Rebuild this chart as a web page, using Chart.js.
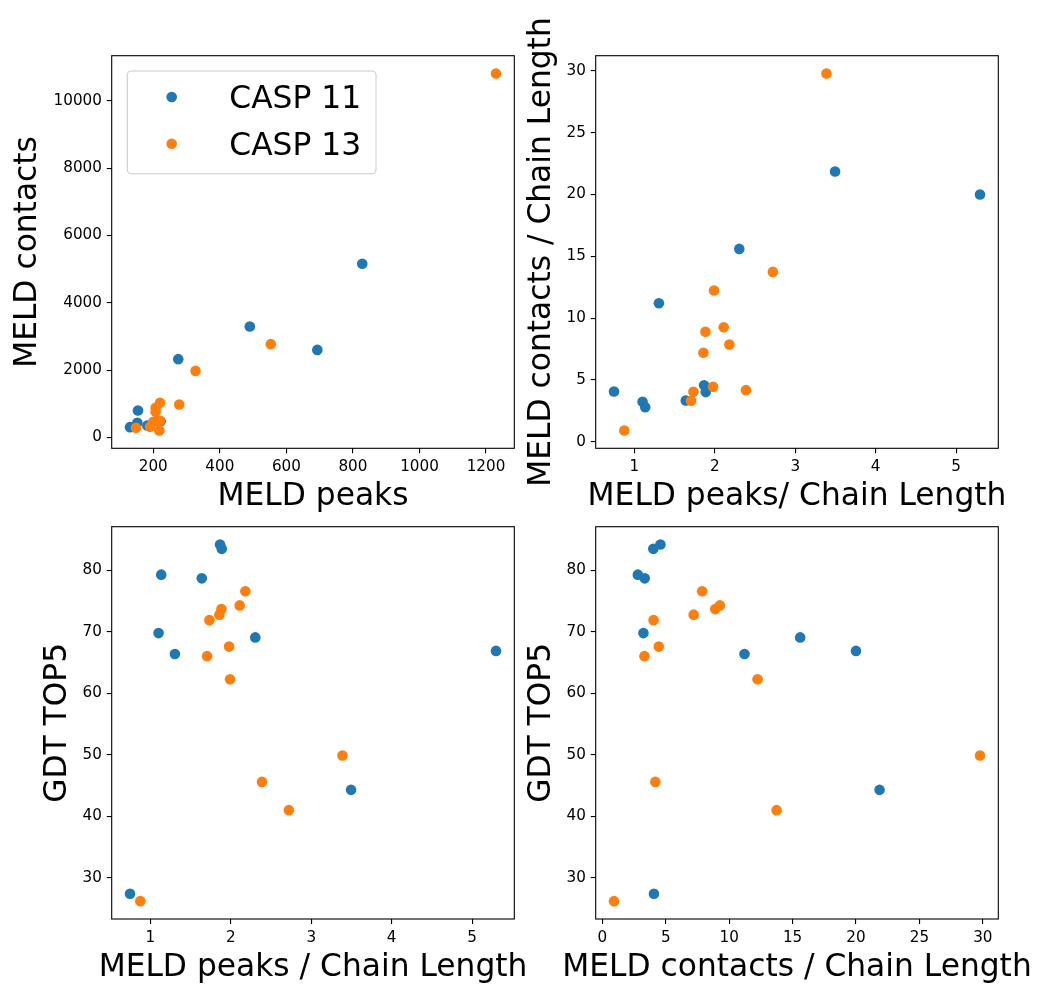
<!DOCTYPE html>
<html>
<head>
<meta charset="utf-8">
<script src="https://cdn.jsdelivr.net/npm/chart.js@4/dist/chart.umd.min.js"></script>
<style>
  body { margin: 0; background: #fff; }
  #fig { position: relative; width: 1040px; height: 984px; }
  #fig canvas { position: absolute; left: 0; top: 0; }
</style>
</head>
<body>
<div id="fig">
  <canvas id="peaksChart" width="1040" height="984"></canvas>
  <canvas id="ratioChart" width="1040" height="984"></canvas>
  <canvas id="gdtPeaksChart" width="1040" height="984"></canvas>
  <canvas id="gdtContactsChart" width="1040" height="984"></canvas>
</div>
<script>
const seriesNames = ['CASP 11', 'CASP 13'];

// CASP 11 targets (same order in every array)
const casp11Peaks = [154, 152, 130, 275, 182, 212, 222, 490, 828, 693];
const casp11Contacts = [802, 434, 306, 2326, 356, 505, 480, 3297, 5160, 2602];
const casp11PeaksPerLength = [0.748, 1.103, 1.136, 1.306, 1.640, 1.867, 1.888, 2.305, 3.495, 5.296];
const casp11ContactsPerLength = [4.07, 3.24, 2.80, 11.21, 3.34, 4.58, 4.02, 15.60, 21.86, 20.00];
const casp11Gdt = [27.4, 69.8, 79.3, 66.4, 78.7, 84.2, 83.5, 69.1, 44.3, 66.9];

// CASP 13 targets
const casp13Peaks = [218, 148, 200, 207, 220, 220, 327, 207, 278, 190, 553, 1230];
const casp13Contacts = [208, 285, 465, 760, 1028, 493, 1978, 879, 980, 315, 2772, 10812];
const casp13PeaksPerLength = [0.876, 1.706, 1.735, 1.859, 1.884, 1.979, 1.991, 2.111, 2.181, 2.388, 2.722, 3.388];
const casp13ContactsPerLength = [0.92, 3.32, 4.04, 7.20, 8.90, 4.45, 12.24, 9.27, 7.87, 4.18, 13.74, 29.78];
const casp13Gdt = [26.2, 66.05, 71.9, 72.8, 73.7, 67.6, 62.3, 74.3, 76.6, 45.6, 41.0, 49.9];

// tick labels
const peaksTicks = [200, 400, 600, 800, 1000, 1200];
const contactsTicks = [0, 2000, 4000, 6000, 8000, 10000];
const peaksPerLengthTicks = [1, 2, 3, 4, 5];
const contactsPerLengthTicks = [0, 5, 10, 15, 20, 25, 30];
const gdtTicks = [30, 40, 50, 60, 70, 80];

const colors = ['#1f77b4', '#ff7f0e'];
const FONT = 'DejaVu Sans';
const tickFont = { family: FONT, size: 15.2 };
const TITLE_SIZE = 31.3;
const MARKER_R = 5.3;

Chart.defaults.font.family = FONT;

// matplotlib style autoscale: data range plus 5% on each side
function limits(values) {
  const lo = Math.min(...values), hi = Math.max(...values);
  const m = (hi - lo) * 0.05;
  return { min: lo - m, max: hi + m };
}

function points(xs, ys) {
  return xs.map((x, i) => ({ x: x, y: ys[i] }));
}

function axis(kind, tickValues, values, size) {
  const lim = limits(values);
  return {
    type: 'linear',
    position: kind === 'x' ? 'bottom' : 'left',
    min: lim.min,
    max: lim.max,
    afterBuildTicks: a => { a.ticks = tickValues.map(v => ({ value: v })); },
    afterFit: a => { if (kind === 'x') a.height = size; else a.width = size; },
    border: { display: false },
    grid: { drawOnChartArea: false, color: '#000', lineWidth: 1.1, tickLength: 4.9 },
    ticks: { color: '#000', padding: 4.9, font: tickFont, autoSkip: false, maxRotation: 0, callback: v => String(v) },
    title: { display: false }
  };
}

// box around the plotting area, drawn over the markers like matplotlib spines
const frame = {
  id: 'frame',
  afterDatasetsDraw(chart) {
    const { ctx, chartArea: a } = chart;
    ctx.save();
    ctx.strokeStyle = '#000';
    ctx.lineWidth = 1.1;
    ctx.strokeRect(a.left, a.top, a.right - a.left, a.bottom - a.top);
    ctx.restore();
  }
};

// axis titles drawn at full size (the built-in ones get squeezed to the axis length)
const axisTitles = {
  id: 'axisTitles',
  afterDraw(chart, args, opts) {
    const { ctx, chartArea: a } = chart;
    ctx.save();
    ctx.font = TITLE_SIZE + 'px "' + FONT + '"';
    ctx.fillStyle = '#000';
    ctx.textAlign = 'center';
    ctx.textBaseline = 'alphabetic';
    ctx.fillText(opts.x, (a.left + a.right) / 2, a.bottom + 56.7);
    ctx.translate(a.left - opts.yOffset, (a.top + a.bottom) / 2);
    ctx.rotate(-Math.PI / 2);
    ctx.fillText(opts.y, 0, 0);
    ctx.restore();
  }
};

// legend placed inside the upper left corner of the first panel
const insetLegend = {
  id: 'insetLegend',
  afterDraw(chart, args, opts) {
    if (!opts.show) return;
    const { ctx, chartArea: a } = chart;
    const left = a.left + 15.6, top = a.top + 15.3;
    ctx.save();
    ctx.beginPath();
    ctx.roundRect(left, top, 248.7, 102.7, 4);
    ctx.fillStyle = 'rgba(255,255,255,0.8)';
    ctx.fill();
    ctx.strokeStyle = '#cccccc';
    ctx.lineWidth = 1.1;
    ctx.stroke();
    ctx.font = TITLE_SIZE + 'px "' + FONT + '"';
    ctx.textBaseline = 'alphabetic';
    ctx.textAlign = 'left';
    chart.data.datasets.slice().sort((p, q) => q.order - p.order).forEach((ds, i) => {
      const baseline = top + 37.3 + i * 46.7;
      ctx.beginPath();
      ctx.arc(left + 44.4, baseline - 11.3, MARKER_R, 0, Math.PI * 2);
      ctx.fillStyle = ds.backgroundColor;
      ctx.fill();
      ctx.fillStyle = '#000';
      ctx.fillText(ds.label, left + 102, baseline);
    });
    ctx.restore();
  }
};

function datasets(xs11, ys11, xs13, ys13) {
  return [
    { label: seriesNames[0], data: points(xs11, ys11), backgroundColor: colors[0], order: 1 },
    { label: seriesNames[1], data: points(xs13, ys13), backgroundColor: colors[1], order: 0 }
  ];
}

function makeChart(id, padding, xScale, yScale, titles, data, showLegend) {
  return new Chart(document.getElementById(id).getContext('2d'), {
    type: 'scatter',
    data: { datasets: data },
    options: {
      responsive: false,
      animation: false,
      devicePixelRatio: 1,
      layout: { padding: padding },
      elements: { point: { radius: MARKER_R, borderWidth: 0, hoverRadius: MARKER_R } },
      plugins: {
        legend: { display: false },
        tooltip: { enabled: false },
        insetLegend: { show: showLegend },
        axisTitles: titles
      },
      scales: { x: xScale, y: yScale }
    },
    plugins: [frame, axisTitles, insetLegend]
  });
}

const X_H = 62.7;

makeChart('peaksChart',
  { left: 12.1, top: 55.7, right: 525.7, bottom: 473 },
  axis('x', peaksTicks, casp11Peaks.concat(casp13Peaks), X_H),
  axis('y', contactsTicks, casp11Contacts.concat(casp13Contacts), 99.6),
  { x: 'MELD peaks', y: 'MELD contacts', yOffset: 75.7 },
  datasets(casp11Peaks, casp11Contacts, casp13Peaks, casp13Contacts), true);

makeChart('ratioChart',
  { left: 523, top: 55.7, right: 41.7, bottom: 473 },
  axis('x', peaksPerLengthTicks, casp11PeaksPerLength.concat(casp13PeaksPerLength), X_H),
  axis('y', contactsPerLengthTicks, casp11ContactsPerLength.concat(casp13ContactsPerLength), 72.7),
  { x: 'MELD peaks/ Chain Length', y: 'MELD contacts / Chain Length', yOffset: 46 },
  datasets(casp11PeaksPerLength, casp11ContactsPerLength, casp13PeaksPerLength, casp13ContactsPerLength), false);

makeChart('gdtPeaksChart',
  { left: 39, top: 526.7, right: 525.7, bottom: 2.3 },
  axis('x', peaksPerLengthTicks, casp11PeaksPerLength.concat(casp13PeaksPerLength), X_H),
  axis('y', gdtTicks, casp11Gdt.concat(casp13Gdt), 72.7),
  { x: 'MELD peaks / Chain Length', y: 'GDT TOP5', yOffset: 46 },
  datasets(casp11PeaksPerLength, casp11Gdt, casp13PeaksPerLength, casp13Gdt), false);

makeChart('gdtContactsChart',
  { left: 523, top: 526.7, right: 41.7, bottom: 2.3 },
  axis('x', contactsPerLengthTicks, casp11ContactsPerLength.concat(casp13ContactsPerLength), X_H),
  axis('y', gdtTicks, casp11Gdt.concat(casp13Gdt), 72.7),
  { x: 'MELD contacts / Chain Length', y: 'GDT TOP5', yOffset: 46 },
  datasets(casp11ContactsPerLength, casp11Gdt, casp13ContactsPerLength, casp13Gdt), false);
</script>
</body>
</html>
